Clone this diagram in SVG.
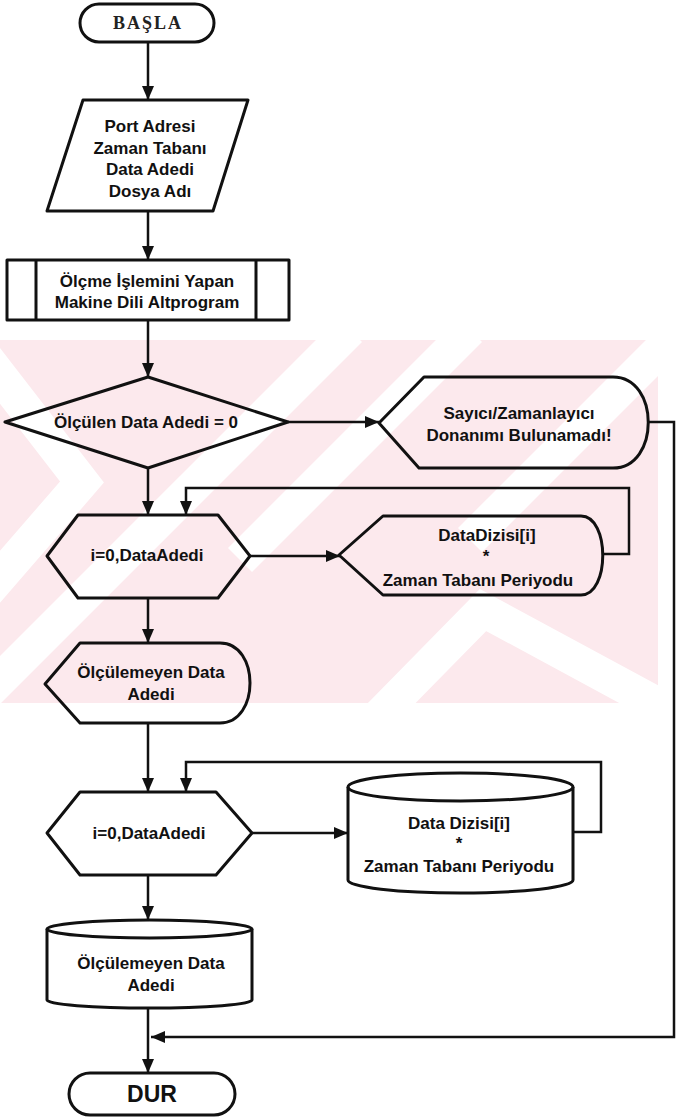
<svg xmlns="http://www.w3.org/2000/svg" width="676" height="1118" viewBox="0 0 676 1118">
  <style>
    .shape { fill: none; stroke: #111; stroke-width: 3; stroke-linejoin: round; }
    .conn { fill: none; stroke: #111; stroke-width: 2.5; }
    .lbl { font-family: "Liberation Sans", Arial, sans-serif; font-weight: bold; font-size: 17px; fill: #111; text-anchor: middle; }
    .term { font-family: "Liberation Serif", "Times New Roman", serif; font-weight: bold; font-size: 18px; fill: #222; text-anchor: middle; letter-spacing: 2px; }
    .stripe { fill: none; stroke: #ffffff; stroke-width: 34; stroke-linejoin: miter; }
  </style>
  <defs>
    <marker id="ah" viewBox="0 0 14 12" refX="14" refY="6" markerWidth="14" markerHeight="12" markerUnits="userSpaceOnUse" orient="auto">
      <path d="M0,0 L14,6 L0,12 Z" fill="#111"/>
    </marker>
    <clipPath id="bandClip">
      <rect x="0" y="340" width="658" height="363"/>
    </clipPath>
  </defs>

  <rect x="0" y="0" width="676" height="1118" fill="#ffffff"/>

  <!-- pale background band with diagonal chevrons -->
  <g id="band" clip-path="url(#bandClip)">
    <rect x="0" y="340" width="658" height="363" fill="#fce9ed"/>
    <polyline class="stripe" points="-20,350 82,482 -20,600"/>
    <polyline class="stripe" points="350,330 -20,700"/>
    <polyline class="stripe" points="470,330 240,560"/>
    <polyline class="stripe" points="380,715 483,610 690,722"/>
    <polyline class="stripe" points="680,330 470,540"/>
  </g>

  <g id="connectors">
    <path class="conn" d="M148 42 V100" marker-end="url(#ah)"/>
    <path class="conn" d="M148 211 V260" marker-end="url(#ah)"/>
    <path class="conn" d="M148 320 V377" marker-end="url(#ah)"/>
    <path class="conn" d="M288 422 H379" marker-end="url(#ah)"/>
    <path class="conn" d="M148 468 V515" marker-end="url(#ah)"/>
    <path class="conn" d="M603 554 H629 V488 H186 V515" marker-end="url(#ah)"/>
    <path class="conn" d="M250 556 H340" marker-end="url(#ah)"/>
    <path class="conn" d="M148 598 V643" marker-end="url(#ah)"/>
    <path class="conn" d="M148 723 V792" marker-end="url(#ah)"/>
    <path class="conn" d="M573 832 H601 V762 H186 V792" marker-end="url(#ah)"/>
    <path class="conn" d="M252 833 H348" marker-end="url(#ah)"/>
    <path class="conn" d="M148 875 V920" marker-end="url(#ah)"/>
    <path class="conn" d="M148 1008 V1073" marker-end="url(#ah)"/>
    <path class="conn" d="M648 422 H674 V1037 H151" marker-end="url(#ah)"/>
  </g>

  <g id="start">
    <rect class="shape" x="80" y="4" width="134" height="38" rx="19"/>
    <text class="term" x="148" y="29">BAŞLA</text>
  </g>

  <g id="input">
    <polygon class="shape" points="83,100 248,100 213,211 47,211"/>
    <text class="lbl" x="150" y="132">Port Adresi</text>
    <text class="lbl" x="150" y="154">Zaman Tabanı</text>
    <text class="lbl" x="150" y="175">Data Adedi</text>
    <text class="lbl" x="150" y="197">Dosya Adı</text>
  </g>

  <g id="subroutine">
    <rect class="shape" x="7" y="260" width="282" height="60"/>
    <line class="shape" x1="36" y1="260" x2="36" y2="320"/>
    <line class="shape" x1="256" y1="260" x2="256" y2="320"/>
    <text class="lbl" x="147" y="287">Ölçme İşlemini Yapan</text>
    <text class="lbl" x="147" y="308">Makine Dili Altprogram</text>
  </g>

  <g id="decision">
    <polygon class="shape" points="148,377 288,422 148,468 5,422"/>
    <text class="lbl" x="146" y="428">Ölçülen Data Adedi = 0</text>
  </g>

  <g id="noHardware">
    <path class="shape" d="M379 423 L424 377 H613 C660 377 660 468 613 468 H419 Z"/>
    <text class="lbl" x="519" y="419">Sayıcı/Zamanlayıcı</text>
    <text class="lbl" x="519" y="441">Donanımı Bulunamadı!</text>
  </g>

  <g id="loop1">
    <polygon class="shape" points="47,556 78,515 218,515 250,556 218,598 78,598"/>
    <text class="lbl" x="147" y="561">i=0,DataAdedi</text>
  </g>

  <g id="displayData">
    <path class="shape" d="M339 555 L383 516 H581 C610 516 610 595 581 595 H383 Z"/>
    <text class="lbl" x="487" y="541">DataDizisi[i]</text>
    <text class="lbl" x="486" y="562">*</text>
    <text class="lbl" x="478" y="586">Zaman Tabanı Periyodu</text>
  </g>

  <g id="displayMissing">
    <path class="shape" d="M45 684 L80 643 H220 C260 643 260 723 220 723 H80 Z"/>
    <text class="lbl" x="151" y="678">Ölçülemeyen Data</text>
    <text class="lbl" x="151" y="700">Adedi</text>
  </g>

  <g id="loop2">
    <polygon class="shape" points="47,833 80,792 216,792 252,833 216,875 80,875"/>
    <text class="lbl" x="149" y="839">i=0,DataAdedi</text>
  </g>

  <g id="storeData">
    <path class="shape" d="M348 787 A112.5 14 0 0 1 573 787 V880 A112.5 13 0 0 1 348 880 Z"/>
    <path class="shape" d="M348 787 A112.5 14 0 0 0 573 787"/>
    <text class="lbl" x="459" y="829">Data Dizisi[i]</text>
    <text class="lbl" x="459" y="849">*</text>
    <text class="lbl" x="459" y="872">Zaman Tabanı Periyodu</text>
  </g>

  <g id="storeMissing">
    <path class="shape" d="M47 929 A102.5 9 0 0 1 252 929 V1000 A102.5 8 0 0 1 47 1000 Z"/>
    <path class="shape" d="M47 929 A102.5 9 0 0 0 252 929"/>
    <text class="lbl" x="151" y="969">Ölçülemeyen Data</text>
    <text class="lbl" x="151" y="991">Adedi</text>
  </g>

  <g id="end">
    <rect class="shape" x="69" y="1073" width="166" height="42" rx="21"/>
    <text class="lbl" x="152" y="1102" style="font-size:23px">DUR</text>
  </g>
</svg>
